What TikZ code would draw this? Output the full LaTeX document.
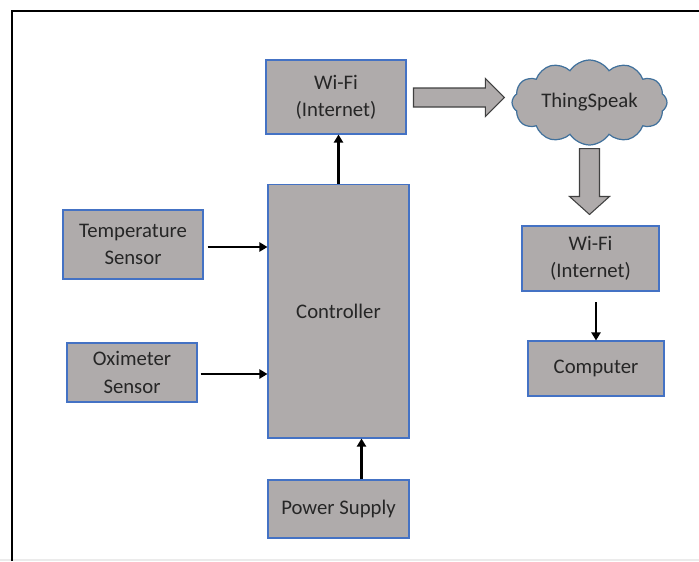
\documentclass[tikz,border=0pt]{standalone}
\usepackage{fontspec}
\setmainfont{Carlito}
\usetikzlibrary{arrows.meta, positioning, calc, shapes.symbols}
\definecolor{boxgray}{HTML}{AFABAB}
\definecolor{boxblue}{HTML}{4472C4}
\definecolor{cloudblue}{HTML}{41719C}
\definecolor{txtdark}{HTML}{262626}
\definecolor{edgedark}{HTML}{404040}
\tikzset{
  unit/.style={rectangle, draw=boxblue, line width=0.6pt, fill=boxgray, align=center,
    text=txtdark, font=\fontsize{11.8}{15.5}\selectfont, inner sep=0pt},
  arr/.style={-{Triangle[length=1.6mm, width=1.8mm]}, line width=1.5pt, black},
  bigarr/.style={draw=edgedark, line width=0.6pt, fill=boxgray},
}
\begin{document}
\begin{tikzpicture}[x=0.02cm, y=-0.02cm]
    \useasboundingbox (0,0) rectangle (699,561);
    \fill[black!8] (0,559) rectangle (699,561);
    \draw[line width=1.2pt] (12,561) -- (12,11) -- (699,11);

    % left side: sensors, controller, supply
    \node[unit, minimum width=2.8cm, minimum height=1.48cm] (wifiA) at (336,97) {Wi-Fi\\(Internet)};
    \node[unit, minimum width=2.82cm, minimum height=5.08cm] (ctrl) at (338.5,311) {Controller};
    \node[unit, minimum width=2.8cm, minimum height=1.38cm] (temp) at (133,244.5) {Temperature\\Sensor};
    \node[unit, minimum width=2.6cm, minimum height=1.18cm] (oxi) at (132,372.5) {Oximeter\\Sensor};
    \node[unit, minimum width=2.82cm, minimum height=1.16cm] (power) at (338.5,509) {Power Supply};

    % right side: cloud and client
    \node[cloud, cloud puffs=12, cloud puff arc=115, cloud ignores aspect, draw=cloudblue,
      line width=0.7pt, fill=boxgray, text=txtdark, font=\fontsize{11.8}{15.5}\selectfont,
      minimum width=3.1cm, minimum height=1.7cm, inner sep=0pt] (cloud) at (589.5,102.5) {ThingSpeak};
    \node[unit, minimum width=2.74cm, minimum height=1.3cm] (wifiB) at (590.5,258.5) {Wi-Fi\\(Internet)};
    \node[unit, minimum width=2.72cm, minimum height=1.1cm] (comp) at (596,368.5) {Computer};

    \draw[arr] ($(temp.east)+(4,2.5)$) -- ($(temp.east -| ctrl.west)+(0,2.5)$);
    \draw[arr] ($(oxi.east)+(3,1.5)$) -- ($(oxi.east -| ctrl.west)+(0,1.5)$);
    \draw[arr] (ctrl.north) -- (ctrl.north |- wifiA.south);
    \draw[arr] ($(power.north)+(23,0)$) -- ($(power.north |- ctrl.south)+(23,0)$);
    \draw[arr, shorten <=4\pgflinewidth] (wifiB.south -| comp.north) -- (comp.north);

    % block arrows
    \coordinate (r0) at ($(wifiA.east)+(7,0.5)$);
    \coordinate (r1) at ($(cloud.west |- r0)+(-7,0)$);
    \draw[bigarr] ($(r0)+(0,-9.5)$) -- ($(r1)+(-19,-9.5)$) -- ($(r1)+(-19,-19)$) -- (r1)
      -- ($(r1)+(-19,19)$) -- ($(r1)+(-19,9.5)$) -- ($(r0)+(0,9.5)$) -- cycle;
    \coordinate (d0) at ($(cloud.south)+(0,3)$);
    \coordinate (d1) at ($(cloud.south |- wifiB.north)+(0,-11)$);
    \draw[bigarr] ($(d0)+(-10,0)$) -- ($(d1)+(-10,-18)$) -- ($(d1)+(-20,-18)$) -- (d1)
      -- ($(d1)+(20,-18)$) -- ($(d1)+(10,-18)$) -- ($(d0)+(10,0)$) -- cycle;
\end{tikzpicture}
\end{document}
